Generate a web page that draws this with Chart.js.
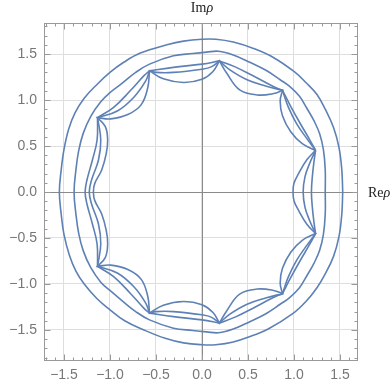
<!DOCTYPE html>
<html>
<head>
<meta charset="utf-8">
<script src="https://cdn.jsdelivr.net/npm/chart.js@4.4.0/dist/chart.umd.min.js"></script>
<style>
html, body { margin: 0; padding: 0; background: #fff; }
#wrap { width: 392px; height: 388px; }
</style>
</head>
<body>
<div id="wrap"><canvas id="rho-chart" width="392" height="388"></canvas></div>
<script>
/* closed curves in the rho plane, counter-clockwise */
var outerCurve = [
	[1.53,0],[1.52,0.24],[1.49,0.48],[1.43,0.70],[1.34,0.90],[1.25,1.06],[1.13,1.19],[1.0,1.31],
	[0.78,1.46],[0.56,1.56],[0.34,1.63],[0.15,1.66],[0.0,1.66],[-0.20,1.64],[-0.38,1.60],[-0.67,1.51],
	[-0.85,1.41],[-1.0,1.30],[-1.13,1.18],[-1.28,1.02],[-1.38,0.86],[-1.45,0.68],[-1.50,0.46],[-1.53,0.24],
	[-1.55,0],[-1.53,-0.24],[-1.50,-0.46],[-1.44,-0.69],[-1.37,-0.86],[-1.28,-1.0],[-1.14,-1.16],[-1.0,-1.28],
	[-0.84,-1.40],[-0.63,-1.50],[-0.40,-1.59],[-0.20,-1.64],[0.0,-1.66],[0.15,-1.66],[0.34,-1.63],[0.55,-1.56],
	[0.72,-1.49],[0.99,-1.32],[1.13,-1.19],[1.25,-1.04],[1.34,-0.89],[1.43,-0.70],[1.49,-0.48],[1.52,-0.24],[1.53,0]
];
var secondCurve = [
	[1.34,0],[1.34,0.24],[1.32,0.46],[1.28,0.63],[1.22,0.77],[1.14,0.91],[1.06,1.04],[0.95,1.15],
	[0.85,1.22],[0.70,1.32],[0.52,1.41],[0.34,1.49],[0.18,1.53],[0.05,1.52],[-0.10,1.505],[-0.31,1.48],
	[-0.57,1.39],[-0.72,1.30],[-0.87,1.18],[-1.0,1.08],[-1.10,0.98],[-1.21,0.82],[-1.29,0.64],[-1.34,0.45],
	[-1.37,0.24],[-1.39,0],[-1.37,-0.24],[-1.34,-0.45],[-1.29,-0.64],[-1.21,-0.82],[-1.10,-0.98],[-1.0,-1.07],
	[-0.87,-1.18],[-0.72,-1.30],[-0.57,-1.39],[-0.31,-1.48],[-0.10,-1.505],[0.05,-1.52],[0.18,-1.53],[0.34,-1.49],
	[0.52,-1.41],[0.70,-1.32],[0.85,-1.22],[0.95,-1.15],[1.06,-1.04],[1.14,-0.91],[1.22,-0.77],[1.28,-0.63],
	[1.32,-0.46],[1.34,-0.24],[1.34,0]
];
var cuspOuter = [
	[1.235,0.452],[1.17,0.57],[1.065,0.75],[0.96,0.94],[0.875,1.105],[0.77,1.15],[0.56,1.26],[0.36,1.36],
	[0.19,1.425],[0.0,1.39],[-0.31,1.355],[-0.57,1.317],[-0.63,1.265],[-0.78,1.10],[-0.96,0.92],[-1.135,0.808],
	[-1.14,0.565],[-1.19,0.35],[-1.25,0.13],[-1.27,0],[-1.25,-0.13],[-1.19,-0.35],[-1.14,-0.565],[-1.135,-0.808],
	[-0.96,-0.92],[-0.78,-1.10],[-0.63,-1.265],[-0.57,-1.317],[-0.31,-1.355],[0.0,-1.39],[0.19,-1.425],[0.36,-1.36],
	[0.56,-1.26],[0.77,-1.15],[0.875,-1.105],[0.96,-0.94],[1.065,-0.75],[1.17,-0.57],[1.235,-0.452],[1.22,-0.35],
	[1.20,-0.17],[1.19,0],[1.20,0.17],[1.22,0.35],[1.235,0.452]
];
var cuspMiddle = [
	[1.235,0.452],[1.14,0.58],[1.03,0.74],[0.94,0.92],[0.89,1.06],[0.875,1.105],[0.70,1.15],[0.49,1.22],
	[0.30,1.33],[0.19,1.425],[0.10,1.36],[0.0,1.335],[-0.31,1.30],[-0.50,1.30],[-0.57,1.317],[-0.61,1.21],
	[-0.74,1.03],[-0.92,0.88],[-1.135,0.808],[-1.10,0.565],[-1.125,0.348],[-1.20,0.13],[-1.225,0],[-1.20,-0.13],
	[-1.125,-0.348],[-1.10,-0.565],[-1.135,-0.808],[-0.92,-0.88],[-0.74,-1.03],[-0.61,-1.21],[-0.57,-1.317],[-0.50,-1.30],
	[-0.31,-1.30],[0.0,-1.335],[0.10,-1.36],[0.19,-1.425],[0.30,-1.33],[0.49,-1.22],[0.70,-1.15],[0.875,-1.105],
	[0.89,-1.06],[0.94,-0.92],[1.03,-0.74],[1.14,-0.58],[1.235,-0.452],[1.17,-0.31],[1.12,-0.167],[1.10,0],
	[1.12,0.167],[1.17,0.31],[1.235,0.452]
];
var cuspInner = [
	[1.235,0.452],[1.09,0.525],[0.965,0.655],[0.875,0.83],[0.85,0.99],[0.875,1.105],[0.78,1.07],[0.60,1.055],
	[0.41,1.11],[0.27,1.29],[0.19,1.425],[0.12,1.31],[0.0,1.225],[-0.20,1.19],[-0.42,1.23],[-0.57,1.317],
	[-0.59,1.13],[-0.66,0.95],[-0.80,0.845],[-0.99,0.795],[-1.135,0.808],[-1.05,0.71],[-1.025,0.565],[-1.04,0.42],
	[-1.09,0.24],[-1.165,0.094],[-1.18,0],[-1.165,-0.094],[-1.09,-0.24],[-1.04,-0.42],[-1.025,-0.565],[-1.05,-0.71],
	[-1.135,-0.808],[-0.99,-0.795],[-0.80,-0.845],[-0.66,-0.95],[-0.59,-1.13],[-0.57,-1.317],[-0.42,-1.23],[-0.20,-1.19],
	[0.0,-1.225],[0.12,-1.31],[0.19,-1.425],[0.27,-1.29],[0.41,-1.11],[0.60,-1.055],[0.78,-1.07],[0.875,-1.105],
	[0.85,-0.99],[0.875,-0.83],[0.965,-0.655],[1.09,-0.525],[1.235,-0.452],[1.14,-0.35],[1.05,-0.20],[1.0,-0.094],
	[0.99,0],[1.0,0.094],[1.05,0.20],[1.14,0.35],[1.235,0.452]
];
// sharp points where the inner curves meet
var cusps = [
	[1.235,0.452],[0.875,1.105],[0.19,1.425],[-0.57,1.317],[-1.135,0.808],
	[-1.135,-0.808],[-0.57,-1.317],[0.19,-1.425],[0.875,-1.105],[1.235,-0.452]
];
var tickValues = [-1.5, -1.0, -0.5, 0.0, 0.5, 1.0, 1.5];

var lineColor = '#5e81b5';
var labelColor = '#777';

function isCusp(p) {
	for (var i = 0; i < cusps.length; i++) {
		if (cusps[i][0] === p[0] && cusps[i][1] === p[1]) return true;
	}
	return false;
}

// doubled point at a cusp keeps the spline from rounding it off
function toPoints(list) {
	var out = [];
	list.forEach(function (p) {
		out.push({x: p[0], y: p[1]});
		if (isCusp(p)) out.push({x: p[0], y: p[1]});
	});
	return out;
}

function curve(list) {
	return {
		data: toPoints(list),
		showLine: true,
		borderColor: lineColor,
		borderWidth: 1.6,
		pointRadius: 0,
		tension: 0.4,
		fill: false
	};
}

function fmt(v) {
	return v.toFixed(1).replace('-', '\u2212');
}

var frame = {
	id: 'frame',
	beforeDatasetsDraw: function (chart) {
		var ctx = chart.ctx, a = chart.chartArea;
		var xs = chart.scales.x, ys = chart.scales.y;
		var L = Math.round(a.left) + 0.5, R = Math.round(a.right) - 0.5;
		var T = Math.round(a.top) + 0.5, B = Math.round(a.bottom) - 0.5;
		ctx.save();
		ctx.lineWidth = 1;

		// axes through the origin
		var x0 = Math.round(xs.getPixelForValue(0)) + 0.5;
		var y0 = Math.round(ys.getPixelForValue(0)) + 0.5;
		ctx.strokeStyle = '#8a8a8a';
		ctx.beginPath();
		ctx.moveTo(x0, T); ctx.lineTo(x0, B);
		ctx.moveTo(L, y0); ctx.lineTo(R, y0);
		ctx.stroke();

		// frame with inward ticks on all sides
		ctx.strokeStyle = '#999';
		ctx.strokeRect(L, T, R - L, B - T);
		ctx.beginPath();
		for (var i = -18; i <= 18; i++) {
			var len = (i % 5 === 0) ? 6 : 3;
			var v = i / 10;
			if (v > xs.min && v < xs.max) {
				var px = Math.round(xs.getPixelForValue(v)) + 0.5;
				ctx.moveTo(px, B); ctx.lineTo(px, B - len);
				ctx.moveTo(px, T); ctx.lineTo(px, T + len);
			}
			if (v > ys.min && v < ys.max) {
				var py = Math.round(ys.getPixelForValue(v)) + 0.5;
				ctx.moveTo(L, py); ctx.lineTo(L + len, py);
				ctx.moveTo(R, py); ctx.lineTo(R - len, py);
			}
		}
		ctx.stroke();
		ctx.restore();
	},
	afterDraw: function (chart) {
		var ctx = chart.ctx;
		var up = '14px "Liberation Serif", "Times New Roman", serif';
		var it = 'italic 14px "Liberation Serif", "Times New Roman", serif';
		ctx.save();
		ctx.fillStyle = '#222';
		ctx.textBaseline = 'alphabetic';
		ctx.textAlign = 'left';

		// Im rho, centred over the vertical axis
		ctx.font = up; var w1 = ctx.measureText('Im').width;
		ctx.font = it; var w2 = ctx.measureText('\u03c1').width;
		var cx = chart.scales.x.getPixelForValue(0);
		var sx = cx - (w1 + w2) / 2;
		ctx.font = up; ctx.fillText('Im', sx, 12);
		ctx.font = it; ctx.fillText('\u03c1', sx + w1, 12);

		// Re rho, right of the horizontal axis
		var ry = chart.scales.y.getPixelForValue(0) + 5;
		ctx.font = up; var w3 = ctx.measureText('Re').width;
		ctx.fillText('Re', 368, ry);
		ctx.font = it; ctx.fillText('\u03c1', 368 + w3, ry);
		ctx.restore();
	}
};

var config = {
	type: 'scatter',
	data: {
		datasets: [
			curve(outerCurve),
			curve(secondCurve),
			curve(cuspOuter),
			curve(cuspMiddle),
			curve(cuspInner)
		]
	},
	options: {
		responsive: false,
		animation: false,
		layout: { padding: { left: 0, right: 34, top: 23, bottom: 0 } },
		plugins: {
			legend: { display: false },
			title: { display: false },
			tooltip: { enabled: false }
		},
		scales: {
			x: {
				type: 'linear',
				min: -1.717,
				max: 1.696,
				afterBuildTicks: function (s) { s.ticks = tickValues.map(function (v) { return {value: v}; }); },
				afterFit: function (s) { s.height = 27; },
				border: { display: false },
				grid: { color: '#dedede', lineWidth: 1, drawTicks: false },
				ticks: {
					padding: 6,
					color: labelColor,
					font: { family: '"Liberation Sans", Arial, sans-serif', size: 14 },
					callback: fmt,
					maxRotation: 0,
					autoSkip: false
				}
			},
			y: {
				type: 'linear',
				min: -1.837,
				max: 1.837,
				afterBuildTicks: function (s) { s.ticks = tickValues.map(function (v) { return {value: v}; }); },
				afterFit: function (s) { s.width = 44; },
				border: { display: false },
				grid: { color: '#dedede', lineWidth: 1, drawTicks: false },
				ticks: {
					padding: 7,
					color: labelColor,
					font: { family: '"Liberation Sans", Arial, sans-serif', size: 14 },
					callback: fmt,
					autoSkip: false
				}
			}
		}
	},
	plugins: [frame]
};

var ctx = document.getElementById('rho-chart').getContext('2d');
window.rhoChart = new Chart(ctx, config);
</script>
</body>
</html>
